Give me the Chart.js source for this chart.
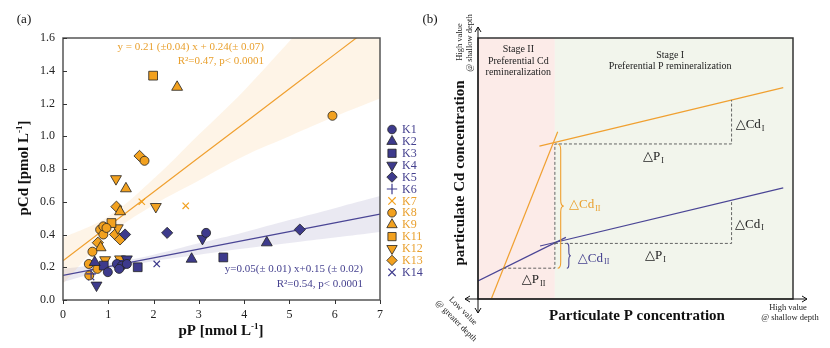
<!DOCTYPE html>
<html>
<head>
<meta charset="utf-8">
<script src="https://cdn.jsdelivr.net/npm/chart.js@4.4.1/dist/chart.umd.min.js"></script>
<style>
  html, body { margin: 0; padding: 0; background: #fff; }
  #wrap { position: relative; width: 830px; height: 348px; overflow: hidden; }
  #panelA { position: absolute; left: 0; top: 0; z-index: 2; }
  #panelB { position: absolute; left: 420px; top: 0; z-index: 1; }
</style>
</head>
<body>
<div id="wrap">
  <canvas id="panelA" width="440" height="348"></canvas>
  <canvas id="panelB" width="410" height="348"></canvas>
</div>
<script>
// ---------- panel (a) data : [pP, pCd] ----------
const seriesNames = ['K1', 'K2', 'K3', 'K4', 'K5', 'K6', 'K7', 'K8', 'K9', 'K11', 'K12', 'K13', 'K14'];
const K1 = [[3.16, 0.41], [1.19, 0.22], [1.30, 0.21], [1.41, 0.22], [0.99, 0.17], [1.24, 0.19]];
const K2 = [[4.50, 0.35], [2.84, 0.25], [0.70, 0.23]];
const K3 = [[3.54, 0.26], [1.65, 0.20], [0.90, 0.21]];
const K4 = [[3.08, 0.375], [1.41, 0.25], [0.74, 0.09]];
const K5 = [[5.23, 0.43], [2.30, 0.41], [1.37, 0.40]];
const K6 = [[0.62, 0.16], [1.33, 0.24]];
const K7 = [[1.74, 0.60], [2.71, 0.575]];
const K8 = [[5.95, 1.125], [1.80, 0.85], [0.82, 0.43], [0.89, 0.40], [0.89, 0.45], [0.96, 0.44],
            [0.65, 0.295], [0.57, 0.22], [0.76, 0.19], [0.58, 0.15]];
const K9 = [[2.52, 1.30], [1.39, 0.68], [1.26, 0.54], [0.83, 0.32]];
const K11 = [[1.99, 1.37], [1.07, 0.47]];
const K12 = [[1.17, 0.74], [2.05, 0.57], [1.21, 0.44], [0.93, 0.245], [1.26, 0.25]];
const K13 = [[1.69, 0.88], [1.18, 0.57], [1.15, 0.40], [1.26, 0.37], [0.77, 0.35]];
const K14 = [[2.07, 0.22], [0.62, 0.14]];
const seriesPoints = [K1, K2, K3, K4, K5, K6, K7, K8, K9, K11, K12, K13, K14];

// regression lines and confidence bands, read at pP = 0..7
const fitX = [0, 1, 2, 3, 4, 5, 6, 7];
const orangeFit = [0.24, 0.45, 0.66, 0.87, 1.08, 1.29, 1.50, 1.71];
const orangeUpper = [0.38, 0.51, 0.74, 1.01, 1.28, 1.58, 1.88, 2.19];
const orangeLower = [0.10, 0.39, 0.58, 0.73, 0.88, 1.00, 1.12, 1.23];
const purpleFit = [0.150, 0.204, 0.257, 0.311, 0.364, 0.418, 0.471, 0.525];
const purpleUpper = [0.19, 0.224, 0.277, 0.346, 0.414, 0.488, 0.561, 0.635];
const purpleLower = [0.11, 0.184, 0.237, 0.276, 0.314, 0.348, 0.381, 0.415];

const xTicks = [0, 1, 2, 3, 4, 5, 6, 7];
const yTicks = [0, 0.2, 0.4, 0.6, 0.8, 1.0, 1.2, 1.4, 1.6];

// ---------- panel (b) schematic lines : [x, y] in relative units ----------
const upperStageII = [[4.3, 0.3], [25.3, 64.1]];
const upperStageI = [[19.5, 58.6], [96.9, 81.0]];
const lowerStageII = [[0, 6.9], [27.9, 23.6]];
const lowerStageI = [[19.7, 20.3], [96.9, 42.6]];
const upperGuide = [[8.0, 11.8], [24.4, 11.8], [24.4, 59.4], [80.5, 59.4], [80.5, 76.2]];
const lowerGuide = [[24.4, 21.3], [80.5, 21.3], [80.5, 37.9]];
const stageBoundary = 24.4;

const PURPLE = '#3d3a8c';
const ORANGE = '#f2a11f';
const ORANGE_TXT = '#e9a02e';
const PURPLE_TXT = '#45418f';
const SERIF = '"Liberation Serif", "DejaVu Serif", serif';

const seriesColors = [PURPLE, PURPLE, PURPLE, PURPLE, PURPLE, PURPLE,
                      ORANGE, ORANGE, ORANGE, ORANGE, ORANGE, ORANGE, PURPLE];
const seriesShapes = ['circle', 'triangle', 'rect', 'down', 'rectRot', 'cross',
                      'crossRot', 'circle', 'triangle', 'rect', 'down', 'rectRot', 'crossRot'];
const shapeRadius = { circle: 4.5, triangle: 6.3, rect: 6.2, down: 6.3, rectRot: 5.6, cross: 5, crossRot: 4.5 };

const toXY = arr => arr.map(p => ({ x: p[0], y: p[1] }));

// draw a legend marker by hand
function marker(ctx, shape, x, y, r, fill) {
  ctx.save();
  ctx.beginPath();
  if (shape === 'circle') {
    ctx.arc(x, y, r, 0, Math.PI * 2);
  } else if (shape === 'triangle' || shape === 'down') {
    const s = shape === 'down' ? -1 : 1;
    ctx.moveTo(x, y - s * r);
    ctx.lineTo(x + r * 0.866, y + s * r * 0.5);
    ctx.lineTo(x - r * 0.866, y + s * r * 0.5);
    ctx.closePath();
  } else if (shape === 'rect') {
    const h = r * 0.707;
    ctx.rect(x - h, y - h, 2 * h, 2 * h);
  } else if (shape === 'rectRot') {
    ctx.moveTo(x, y - r); ctx.lineTo(x + r, y); ctx.lineTo(x, y + r); ctx.lineTo(x - r, y); ctx.closePath();
  } else if (shape === 'cross') {
    ctx.moveTo(x - r, y); ctx.lineTo(x + r, y); ctx.moveTo(x, y - r); ctx.lineTo(x, y + r);
  } else if (shape === 'crossRot') {
    const d = r * 0.8;
    ctx.moveTo(x - d, y - d); ctx.lineTo(x + d, y + d); ctx.moveTo(x - d, y + d); ctx.lineTo(x + d, y - d);
  }
  if (shape === 'cross' || shape === 'crossRot') {
    ctx.strokeStyle = fill; ctx.lineWidth = 1.2; ctx.stroke();
  } else {
    ctx.fillStyle = fill; ctx.fill();
    ctx.strokeStyle = '#222'; ctx.lineWidth = 0.8; ctx.stroke();
  }
  ctx.restore();
}

// text with superscript / subscript pieces, centred on (x, y)
function richText(ctx, parts, x, y, size, bold, rot, color) {
  ctx.save();
  ctx.translate(x, y);
  ctx.rotate(rot);
  ctx.fillStyle = color;
  ctx.textBaseline = 'middle';
  ctx.textAlign = 'left';
  const fonts = parts.map(p => (bold ? 'bold ' : '') + (p.sup || p.sub ? Math.round(size * 0.62) : size) + 'px ' + SERIF);
  const widths = parts.map((p, i) => { ctx.font = fonts[i]; return ctx.measureText(p.t).width; });
  let cx = -widths.reduce((a, b) => a + b, 0) / 2;
  parts.forEach((p, i) => {
    ctx.font = fonts[i];
    const dy = p.sup ? -size * 0.32 : (p.sub ? size * 0.3 : 0);
    ctx.fillText(p.t, cx, dy);
    cx += widths[i];
  });
  ctx.restore();
}

// ---------- panel (a) ----------
const datasetsA = [];
seriesNames.forEach((name, i) => {
  const shape = seriesShapes[i];
  const isCross = shape === 'cross' || shape === 'crossRot';
  datasetsA.push({
    type: 'scatter',
    label: name,
    data: toXY(seriesPoints[i]),
    pointStyle: shape === 'down' ? 'triangle' : shape,
    rotation: shape === 'down' ? 180 : 0,
    pointRadius: shapeRadius[shape],
    backgroundColor: seriesColors[i],
    borderColor: isCross ? seriesColors[i] : '#222',
    pointBorderWidth: isCross ? 1.2 : 0.8,
    order: 0
  });
});
const bandLine = (vals, extra) => Object.assign({
  type: 'line',
  data: fitX.map((x, i) => ({ x: x, y: vals[i] })),
  pointRadius: 0,
  borderWidth: 0,
  tension: 0.4,
  fill: false,
  order: 2
}, extra);
datasetsA.push(bandLine(orangeUpper, { label: 'oU', fill: '+1', backgroundColor: 'rgba(245,165,60,0.12)' }));
datasetsA.push(bandLine(orangeLower, { label: 'oL' }));
datasetsA.push(bandLine(purpleUpper, { label: 'pU', fill: '+1', backgroundColor: 'rgba(60,55,140,0.11)' }));
datasetsA.push(bandLine(purpleLower, { label: 'pL' }));
datasetsA.push(bandLine(orangeFit, { label: 'oFit', borderWidth: 1.2, borderColor: '#f0a030', tension: 0, order: 1 }));
datasetsA.push(bandLine(purpleFit, { label: 'pFit', borderWidth: 1.2, borderColor: '#4a4595', tension: 0, order: 1 }));

const decorA = {
  id: 'decorA',
  afterDatasetsDraw(chart) {
    const ctx = chart.ctx;
    const a = chart.chartArea;
    const xs = chart.scales.x, ys = chart.scales.y;
    ctx.save();
    // frame
    ctx.strokeStyle = '#555';
    ctx.lineWidth = 1.5;
    ctx.strokeRect(a.left, a.top, a.right - a.left, a.bottom - a.top);
    // tick marks
    ctx.lineWidth = 1;
    ctx.strokeStyle = '#333';
    ctx.beginPath();
    yTicks.forEach(v => { const py = Math.round(ys.getPixelForValue(v)) + 0.5; ctx.moveTo(a.left, py); ctx.lineTo(a.left + 4, py); });
    xTicks.forEach(v => { const px = Math.round(xs.getPixelForValue(v)) + 0.5; ctx.moveTo(px, a.bottom); ctx.lineTo(px, a.bottom + 4); });
    ctx.stroke();
    // axis titles
    richText(ctx, [{ t: 'pCd [pmol L' }, { t: '-1', sup: true }, { t: ']' }], 24, 168, 15, true, -Math.PI / 2, '#111');
    richText(ctx, [{ t: 'pP [nmol L' }, { t: '-1', sup: true }, { t: ']' }], 221, 331, 15, true, 0, '#111');
    // equations
    ctx.font = '11px ' + SERIF;
    ctx.textAlign = 'right';
    ctx.textBaseline = 'middle';
    ctx.fillStyle = ORANGE_TXT;
    ctx.fillText('y = 0.21 (\u00b10.04) x + 0.24(\u00b1 0.07)', 264, 47);
    ctx.fillText('R\u00b2=0.47, p< 0.0001', 264, 61);
    ctx.fillStyle = PURPLE_TXT;
    ctx.fillText('y=0.05(\u00b1 0.01) x+0.15 (\u00b1 0.02)', 363, 269);
    ctx.fillText('R\u00b2=0.54, p< 0.0001', 363, 284);
    // legend
    ctx.textAlign = 'left';
    ctx.font = '12px ' + SERIF;
    seriesNames.forEach((name, i) => {
      const ly = 129.5 + i * 11.9;
      const shape = seriesShapes[i];
      const r = { circle: 4.3, triangle: 6, rect: 5.8, down: 6, rectRot: 5.2, cross: 5.2, crossRot: 4.6 }[shape];
      marker(ctx, shape, 392, ly, r, seriesColors[i]);
      ctx.fillStyle = seriesColors[i] === ORANGE ? ORANGE_TXT : PURPLE_TXT;
      ctx.fillText(name, 402, ly + 0.5);
    });
    // panel tag
    ctx.fillStyle = '#111';
    ctx.font = '13px ' + SERIF;
    ctx.textAlign = 'center';
    ctx.fillText('(a)', 24, 20);
    ctx.restore();
  }
};

new Chart(document.getElementById('panelA').getContext('2d'), {
  type: 'scatter',
  data: { datasets: datasetsA },
  options: {
    responsive: false,
    animation: false,
    events: [],
    layout: { padding: { left: 0, top: 38, right: 60, bottom: 0 } },
    plugins: { legend: { display: false }, tooltip: { enabled: false } },
    scales: {
      x: {
        type: 'linear', min: 0, max: 7,
        grid: { drawOnChartArea: false, drawTicks: false },
        border: { display: false },
        ticks: { stepSize: 1, padding: 8, color: '#222', font: { family: SERIF, size: 12 } },
        afterFit: s => { s.height = 48; }
      },
      y: {
        type: 'linear', min: 0, max: 1.6,
        grid: { drawOnChartArea: false, drawTicks: false },
        border: { display: false },
        ticks: { stepSize: 0.2, padding: 8, color: '#222', font: { family: SERIF, size: 12 },
                 callback: v => Number(v).toFixed(1) },
        afterFit: s => { s.width = 63; }
      }
    }
  },
  plugins: [decorA]
});

// ---------- panel (b) ----------
function schematicLine(points, color, dash) {
  return {
    type: 'line',
    data: toXY(points),
    borderColor: color,
    borderWidth: dash ? 0.9 : 1.2,
    borderDash: dash ? [3, 2] : [],
    pointRadius: 0,
    fill: false,
    tension: 0
  };
}

function deltaLabel(ctx, x, y, main, sub, color) {
  ctx.fillStyle = color;
  ctx.textAlign = 'left';
  ctx.textBaseline = 'middle';
  ctx.font = '13px ' + SERIF;
  ctx.fillText(main, x, y);
  const w = ctx.measureText(main).width;
  ctx.font = '8px ' + SERIF;
  ctx.fillText(sub, x + w + 1, y + 4);
}

function brace(ctx, x, y1, y2, w) {
  const ym = (y1 + y2) / 2;
  const c = Math.min(w, (y2 - y1) / 4);
  ctx.beginPath();
  ctx.moveTo(x, y1);
  ctx.quadraticCurveTo(x + w / 2, y1, x + w / 2, y1 + c);
  ctx.lineTo(x + w / 2, ym - c);
  ctx.quadraticCurveTo(x + w / 2, ym, x + w, ym);
  ctx.quadraticCurveTo(x + w / 2, ym, x + w / 2, ym + c);
  ctx.lineTo(x + w / 2, y2 - c);
  ctx.quadraticCurveTo(x + w / 2, y2, x, y2);
  ctx.stroke();
}

function arrowHead(ctx, x, y, dx, dy) {
  // open V head pointing along (dx, dy)
  const s = 5;
  ctx.moveTo(x - dx * s - dy * s * 0.6, y - dy * s + dx * s * 0.6);
  ctx.lineTo(x, y);
  ctx.lineTo(x - dx * s + dy * s * 0.6, y - dy * s - dx * s * 0.6);
}

const decorB = {
  id: 'decorB',
  beforeDatasetsDraw(chart) {
    const ctx = chart.ctx;
    const a = chart.chartArea;
    const xb = chart.scales.x.getPixelForValue(stageBoundary);
    ctx.save();
    ctx.fillStyle = '#fcebe8';
    ctx.fillRect(a.left, a.top, xb - a.left, a.bottom - a.top);
    ctx.fillStyle = '#f2f5ec';
    ctx.fillRect(xb, a.top, a.right - xb, a.bottom - a.top);
    ctx.restore();
  },
  afterDatasetsDraw(chart) {
    const ctx = chart.ctx;
    const a = chart.chartArea;
    const X = v => chart.scales.x.getPixelForValue(v);
    const Y = v => chart.scales.y.getPixelForValue(v);
    ctx.save();
    // braces
    ctx.lineWidth = 1.1;
    ctx.strokeStyle = '#f0a030';
    brace(ctx, X(25.3), Y(59.4), Y(11.8), 6);
    ctx.strokeStyle = '#4a4595';
    brace(ctx, X(28.2), Y(21.3), Y(11.8), 4);
    // frame
    ctx.strokeStyle = '#333';
    ctx.lineWidth = 1.5;
    ctx.strokeRect(a.left, a.top, a.right - a.left, a.bottom - a.top);
    // axis arrows
    ctx.lineWidth = 1;
    ctx.strokeStyle = '#111';
    ctx.beginPath();
    ctx.moveTo(a.left, 313); ctx.lineTo(a.left, 27);
    arrowHead(ctx, a.left, 27, 0, -1);
    arrowHead(ctx, a.left, 313, 0, 1);
    ctx.moveTo(45, a.bottom); ctx.lineTo(387, a.bottom);
    arrowHead(ctx, 45, a.bottom, -1, 0);
    arrowHead(ctx, 387, a.bottom, 1, 0);
    ctx.stroke();
    // stage texts
    ctx.fillStyle = '#222';
    ctx.font = '10px ' + SERIF;
    ctx.textAlign = 'center';
    ctx.textBaseline = 'middle';
    ctx.fillText('Stage II', X(12.8), Y(95.7));
    ctx.fillText('Preferential Cd', X(12.8), Y(91.2));
    ctx.fillText('remineralization', X(12.8), Y(86.7));
    ctx.fillText('Stage I', X(61), Y(93.5));
    ctx.fillText('Preferential P remineralization', X(61), Y(89.0));
    // delta labels
    deltaLabel(ctx, X(81.8), Y(66.7), '\u25b3Cd', 'I', '#222');
    deltaLabel(ctx, X(52.4), Y(54.5), '\u25b3P', 'I', '#222');
    deltaLabel(ctx, X(28.9), Y(36.0), '\u25b3Cd', 'II', ORANGE_TXT);
    deltaLabel(ctx, X(81.6), Y(28.7), '\u25b3Cd', 'I', '#222');
    deltaLabel(ctx, X(31.7), Y(15.6), '\u25b3Cd', 'II', PURPLE_TXT);
    deltaLabel(ctx, X(53.0), Y(16.5), '\u25b3P', 'I', '#222');
    deltaLabel(ctx, X(13.9), Y(7.5), '\u25b3P', 'II', '#222');
    // axis titles
    richText(ctx, [{ t: 'particulate Cd concentration' }], 40, 173, 15, true, -Math.PI / 2, '#111');
    richText(ctx, [{ t: 'Particulate P concentration' }], 217, 316, 15, true, 0, '#111');
    // corner notes
    richText(ctx, [{ t: 'High value' }], 40, 42, 8.5, false, -Math.PI / 2, '#222');
    richText(ctx, [{ t: '@ shallow depth' }], 50, 43, 8.5, false, -Math.PI / 2, '#222');
    richText(ctx, [{ t: 'Low value' }], 43, 311, 8.5, false, Math.PI / 4, '#222');
    richText(ctx, [{ t: '@ greater depth' }], 36, 321, 8.5, false, Math.PI / 4, '#222');
    richText(ctx, [{ t: 'High value' }], 368, 308, 8.5, false, 0, '#222');
    richText(ctx, [{ t: '@ shallow depth' }], 370, 318, 8.5, false, 0, '#222');
    // panel tag
    ctx.fillStyle = '#111';
    ctx.font = '13px ' + SERIF;
    ctx.textAlign = 'center';
    ctx.fillText('(b)', 10, 20);
    ctx.restore();
  }
};

new Chart(document.getElementById('panelB').getContext('2d'), {
  type: 'line',
  data: {
    datasets: [
      schematicLine(upperGuide, '#555', true),
      schematicLine(lowerGuide, '#555', true),
      schematicLine(upperStageII, '#f0a030'),
      schematicLine(upperStageI, '#f0a030'),
      schematicLine(lowerStageII, '#4a4595'),
      schematicLine(lowerStageI, '#4a4595')
    ]
  },
  options: {
    responsive: false,
    animation: false,
    events: [],
    layout: { padding: { left: 58, top: 38, right: 37, bottom: 49 } },
    plugins: { legend: { display: false }, tooltip: { enabled: false } },
    scales: {
      x: { type: 'linear', min: 0, max: 100, display: false },
      y: { type: 'linear', min: 0, max: 100, display: false }
    }
  },
  plugins: [decorB]
});
</script>
</body>
</html>
